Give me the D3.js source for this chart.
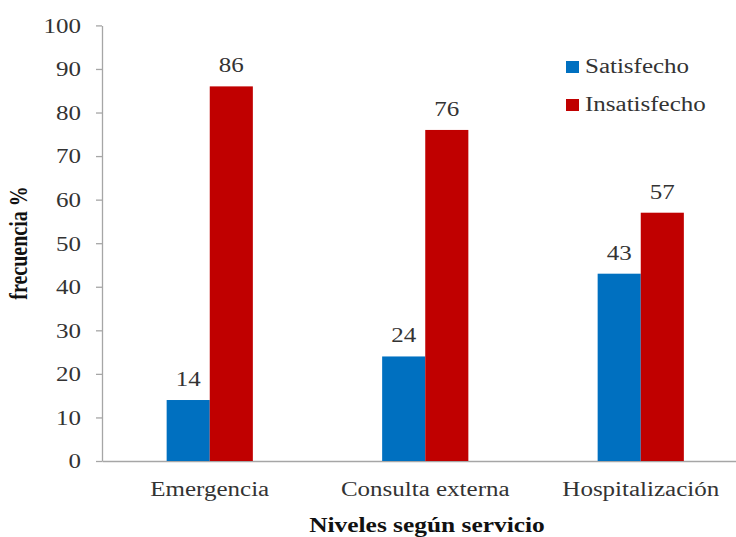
<!DOCTYPE html>
<html>
<head>
<meta charset="utf-8">
<script src="https://cdn.jsdelivr.net/npm/d3@7"></script>
<style>
  html, body { margin: 0; padding: 0; background: #fff; }
  svg { display: block; }
  svg text { font-family: "Liberation Serif", "Times New Roman", Times, serif !important; }
</style>
</head>
<body>
<svg id="chart" width="736" height="537"></svg>
<script>
const categories = ["Emergencia", "Consulta externa", "Hospitalización"];
const seriesNames = ["Satisfecho", "Insatisfecho"];
const satisfecho = [14, 24, 43];
const insatisfecho = [86, 76, 57];
const yTicks = [0, 10, 20, 30, 40, 50, 60, 70, 80, 90, 100];
const colors = ["#0070C0", "#C00000"];

const SX = 1.25; // horizontal stretch of the reference's text
const svg = d3.select("#chart");

const y = d3.scaleLinear().domain([0, 100]).range([461, 25.4]);
const x0 = d3.scaleBand().domain(categories).range([102, 748.5])
  .paddingInner(0.6).paddingOuter(0.3);
const x1 = d3.scaleBand().domain(seriesNames).range([0, x0.bandwidth()]).padding(0);

// Y axis
const yAxis = svg.append("g").attr("transform", "translate(102,0)")
  .call(d3.axisLeft(y).tickValues(yTicks).tickSize(6).tickSizeOuter(0));
yAxis.select(".domain").attr("stroke", "#a6a6a6").attr("stroke-width", 1.3);
yAxis.selectAll(".tick line").attr("stroke", "#a6a6a6").attr("stroke-width", 1.3);
yAxis.selectAll(".tick text")
  .attr("x", -21 / SX).attr("dy", "0.34em")
  .attr("transform", `scale(${SX},1)`)
  .attr("font-size", 20).attr("fill", "#333");

// X axis
const xAxis = svg.append("g").attr("transform", "translate(0,461)")
  .call(d3.axisBottom(x0).tickSize(0).tickSizeOuter(0).tickPadding(0));
xAxis.select(".domain").attr("stroke", "#a6a6a6").attr("stroke-width", 1.3);
xAxis.selectAll(".tick text")
  .attr("y", 0).attr("dy", 0)
  .attr("transform", `translate(0,35) scale(${SX},1)`)
  .attr("font-size", 20).attr("fill", "#333");

// Bars
const data = categories.map((c, i) => ({ cat: c, vals: [satisfecho[i], insatisfecho[i]] }));
const groups = svg.append("g").selectAll("g").data(data).join("g")
  .attr("transform", d => `translate(${x0(d.cat)},0)`);
groups.selectAll("rect")
  .data(d => d.vals.map((v, j) => ({ name: seriesNames[j], v, j })))
  .join("rect")
  .attr("x", d => x1(d.name))
  .attr("y", d => y(d.v))
  .attr("width", x1.bandwidth())
  .attr("height", d => y(0) - y(d.v))
  .attr("fill", d => colors[d.j]);
groups.selectAll("text.val")
  .data(d => d.vals.map((v, j) => ({ name: seriesNames[j], v, j })))
  .join("text").attr("class", "val")
  .attr("transform", d => `translate(${x1(d.name) + x1.bandwidth() / 2},${y(d.v) - 14}) scale(${SX},1)`)
  .attr("text-anchor", "middle")
  .attr("font-size", 20).attr("fill", "#333")
  .text(d => d.v);

// Axis titles
svg.append("text")
  .attr("transform", `translate(427,532) scale(1.27,1)`)
  .attr("text-anchor", "middle")
  .attr("font-size", 20).attr("font-weight", "bold").attr("fill", "#111")
  .text("Niveles según servicio");
svg.append("text")
  .attr("transform", `translate(27,243) rotate(-90) scale(1,${SX})`)
  .attr("text-anchor", "middle")
  .attr("font-size", 20).attr("font-weight", "bold").attr("fill", "#111")
  .text("frecuencia %");

// Legend
const legend = svg.append("g").selectAll("g").data(seriesNames).join("g")
  .attr("transform", (d, i) => `translate(566,${61 + i * 38})`);
legend.append("rect").attr("width", 13).attr("height", 12)
  .attr("fill", (d, i) => colors[i]);
legend.append("text")
  .attr("transform", `translate(19,12) scale(${SX},1)`)
  .attr("font-size", 20).attr("fill", "#333")
  .text(d => d);
</script>
</body>
</html>
